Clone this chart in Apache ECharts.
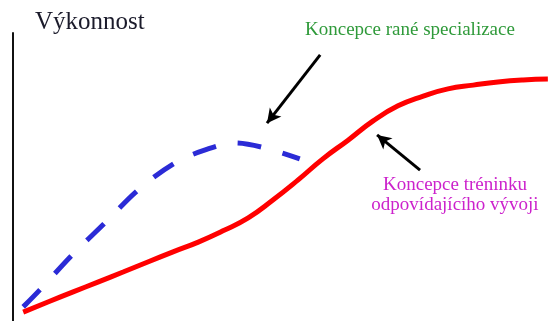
<!DOCTYPE html>
<html>
<head>
<meta charset="utf-8">
<script src="https://cdn.jsdelivr.net/npm/echarts@6/dist/echarts.min.js"></script>
<style>
  html, body { margin: 0; padding: 0; background: #fff; }
  #chart { width: 550px; height: 321px; }
</style>
</head>
<body>
<div id="chart"></div>
<script>
// Time axis (0-100) and performance (0-100), conceptual units.
const devTime = [1.9, 6.5, 11.2, 15.8, 20.5, 25.1, 29.8, 34.5, 39.1, 43.8, 48.4,
                 53.1, 57.7, 62.4, 67.0, 71.7, 76.4, 81.0, 85.7, 90.3, 95.0, 99.6];
const devPerf = [3.1, 6.6, 10.1, 13.5, 17.0, 20.5, 24.0, 27.4, 31.3, 35.8, 42.0,
                 49.0, 56.3, 62.8, 69.4, 74.7, 78.1, 80.6, 81.9, 83.0, 83.7, 84.0];

const earlyTime = [1.9, 5.0, 11.0, 17.1, 23.3, 30.2, 35.8, 41.3, 46.9, 53.4];
const earlyPerf = [4.9, 10.8, 22.9, 34.0, 45.5, 54.9, 59.4, 61.8, 60.1, 56.3];

const yLabel = 'Výkonnost';
const earlyLabel = 'Koncepce rané specializace';
const devLabel = ['Koncepce tréninku', 'odpovídajícího vývoji'];

// Pointer arrows: [tail, tip] in axis units
const earlyArrow = [[57.2, 92.4], [47.3, 68.7]];
const devArrow = [[75.8, 52.4], [67.8, 64.6]];

const zip = (xs, ys) => xs.map((x, i) => [x, ys[i]]);

const serif = '"Liberation Serif", "DejaVu Serif", serif';

const chart = echarts.init(document.getElementById('chart'), null, { renderer: 'canvas' });

function arrowLine(pair) {
  return {
    silent: true,
    symbol: ['none', 'arrow'],
    symbolSize: [11, 14],
    label: { show: false },
    lineStyle: { color: '#000', width: 3, type: 'solid' },
    data: [[{ coord: pair[0] }, { coord: pair[1] }]]
  };
}

chart.setOption({
  animation: false,
  backgroundColor: '#ffffff',
  grid: { left: 13, right: 0, top: 33, bottom: 0, containLabel: false },
  xAxis: {
    type: 'value', min: 0, max: 100,
    axisLine: { show: false }, axisTick: { show: false },
    axisLabel: { show: false }, splitLine: { show: false }
  },
  yAxis: {
    type: 'value', min: 0, max: 100,
    axisLine: { show: true, lineStyle: { color: '#111', width: 2 } },
    axisTick: { show: false }, axisLabel: { show: false }, splitLine: { show: false }
  },
  graphic: [
    {
      type: 'text', left: 35, top: 10,
      style: { text: yLabel, font: '25px ' + serif, fill: '#1b1b2b' }
    },
    {
      type: 'text', left: 305, top: 21,
      style: { text: earlyLabel, font: '19px ' + serif, fill: '#2f9a3a' }
    },
    {
      type: 'text', x: 455, y: 175,
      style: {
        text: devLabel.join('\n'), font: '19px ' + serif, fill: '#cc22cc',
        align: 'center', lineHeight: 20
      }
    }
  ],
  series: [
    {
      type: 'line',
      data: zip(devTime, devPerf),
      smooth: 0.5,
      symbol: 'none',
      lineStyle: { color: '#ff0000', width: 5 },
      markLine: arrowLine(devArrow),
      z: 3
    },
    {
      type: 'line',
      data: zip(earlyTime, earlyPerf),
      smooth: 0.35,
      symbol: 'none',
      lineStyle: { color: '#2b2bd6', width: 5, type: [24, 22], cap: 'butt' },
      markLine: arrowLine(earlyArrow),
      z: 2
    }
  ]
});
</script>
</body>
</html>
